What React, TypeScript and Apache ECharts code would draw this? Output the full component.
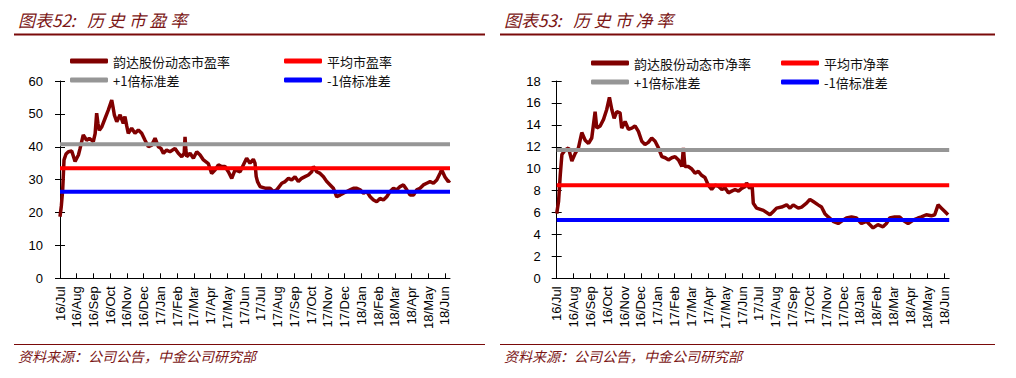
import React, { useEffect, useRef } from "react";
import * as echarts from "echarts";

// x positions are months elapsed since the start of Jul 2016
const monthLabels = [
  "16/Jul", "16/Aug", "16/Sep", "16/Oct", "16/Nov", "16/Dec",
  "17/Jan", "17/Feb", "17/Mar", "17/Apr", "17/May", "17/Jun",
  "17/Jul", "17/Aug", "17/Sep", "17/Oct", "17/Nov", "17/Dec",
  "18/Jan", "18/Feb", "18/Mar", "18/Apr", "18/May", "18/Jun",
];
const monthTicks = monthLabels.map((_, i) => i);
const xEnd = 23.3;

// 韵达股份动态市盈率 [month, PE]
const peData: [number, number][] = [
  [0, 18.7], [0.08, 22], [0.16, 26.8], [0.24, 36], [0.36, 37.8], [0.5, 38.5], [0.7, 38.7],
  [0.9, 35.5], [1.1, 37.5], [1.2, 39.5], [1.39, 43.6], [1.59, 42], [1.75, 42.5], [1.89, 42],
  [1.99, 41.6], [2.1, 44], [2.19, 50.2], [2.27, 47], [2.35, 45], [2.49, 46], [2.69, 48.6],
  [2.89, 51.2], [3.09, 54.2], [3.17, 52], [3.25, 49.6], [3.39, 47.6], [3.59, 49.7], [3.78, 47.1],
  [3.88, 49.2], [3.98, 46.5], [4.08, 44.1], [4.28, 45.6], [4.48, 44.1], [4.68, 45.1], [4.88, 44.1],
  [5.08, 42], [5.28, 40], [5.48, 40.5], [5.68, 42.6], [5.88, 40], [6.03, 39.5], [6.18, 38],
  [6.37, 39], [6.57, 38.5], [6.87, 39.5], [7.07, 38], [7.27, 37], [7.42, 38], [7.47, 43],
  [7.52, 39], [7.57, 37], [7.77, 38], [7.97, 36.5], [8.17, 38.5], [8.37, 37.5], [8.57, 36],
  [8.86, 34.9], [9.06, 31.9], [9.26, 32.9], [9.46, 34.5], [9.66, 34], [9.86, 34], [10.06, 32.4],
  [10.26, 30.4], [10.46, 33], [10.76, 32.4], [10.96, 34.5], [11.15, 36.5], [11.35, 35],
  [11.55, 36.2], [11.65, 35], [11.72, 31], [11.8, 29.4], [11.95, 27.9], [12.25, 27.4],
  [12.55, 27.4], [12.75, 26.4], [12.95, 26.9], [13.25, 28.9], [13.45, 29.4], [13.65, 30.4],
  [13.84, 29.9], [14.04, 30.9], [14.24, 29.4], [14.44, 30.4], [14.64, 30.9], [14.84, 31.4],
  [15.04, 32.4], [15.14, 34], [15.34, 32.4], [15.54, 31.9], [15.74, 30.9], [15.94, 29.4],
  [16.14, 28.4], [16.33, 27.4], [16.53, 24.8], [16.73, 25.3], [16.93, 25.9], [17.13, 26.4],
  [17.33, 26.9], [17.53, 27.4], [17.73, 27.4], [17.93, 26.9], [18.13, 25.9], [18.33, 26.4],
  [18.53, 24.8], [18.73, 23.8], [18.92, 23.3], [19.12, 24.3], [19.32, 23.8], [19.52, 24.8],
  [19.72, 26.4], [19.92, 27.4], [20.12, 26.9], [20.32, 27.9], [20.52, 28.4], [20.72, 26.9],
  [20.92, 25.3], [21.12, 25.3], [21.31, 26.9], [21.51, 27.4], [21.71, 28.4], [21.91, 28.9],
  [22.11, 29.4], [22.31, 28.9], [22.51, 29.9], [22.7, 31.9], [22.8, 33], [23.0, 30.8],
  [23.2, 29.4], [23.3, 29.8],
];

// 韵达股份动态市净率 [month, PB]
const pbData: [number, number][] = [
  [0, 5.9], [0.11, 7.0], [0.21, 9.4], [0.31, 11.3], [0.5, 11.7], [0.7, 11.9], [0.9, 10.7],
  [1.1, 11.4], [1.29, 11.9], [1.49, 13.3], [1.69, 12.6], [1.89, 12.3], [2.08, 12.8], [2.28, 15.2],
  [2.38, 13.7], [2.58, 13.9], [2.78, 14.5], [2.97, 15.4], [3.13, 16.5], [3.27, 15.4], [3.41, 14.6],
  [3.57, 15.2], [3.76, 15.1], [3.86, 13.7], [4.06, 14.3], [4.26, 13.6], [4.46, 13.7], [4.65, 13.9],
  [4.85, 13.4], [5.05, 12.5], [5.24, 12.2], [5.44, 12.4], [5.64, 12.8], [5.84, 12.5], [6.04, 11.9],
  [6.24, 11.1], [6.44, 11.0], [6.63, 10.8], [6.83, 11.0], [7.03, 11.1], [7.23, 10.8], [7.43, 10.2],
  [7.52, 11.9], [7.61, 10.2], [7.81, 10.2], [8.0, 10.0], [8.21, 9.6], [8.41, 9.75], [8.6, 9.4],
  [8.8, 9.2], [9.0, 8.5], [9.2, 8.1], [9.4, 8.5], [9.6, 8.4], [9.8, 8.1], [10.0, 8.25],
  [10.19, 7.8], [10.39, 7.95], [10.59, 8.1], [10.79, 7.95], [10.98, 8.2], [11.18, 8.35],
  [11.27, 8.7], [11.45, 8.2], [11.6, 8.5], [11.67, 6.85], [11.87, 6.4], [12.27, 6.2],
  [12.66, 5.8], [12.86, 6.1], [13.05, 6.4], [13.35, 6.5], [13.65, 6.7], [13.85, 6.4],
  [14.04, 6.7], [14.34, 6.4], [14.54, 6.5], [14.83, 6.85], [15.03, 7.2], [15.23, 7.0],
  [15.52, 6.7], [15.72, 6.5], [15.92, 5.9], [16.12, 5.6], [16.41, 5.2], [16.71, 5.0],
  [16.9, 5.2], [17.2, 5.5], [17.5, 5.6], [17.79, 5.5], [18.09, 5.0], [18.39, 5.2], [18.58, 4.9],
  [18.78, 4.6], [19.07, 4.9], [19.37, 4.7], [19.57, 5.0], [19.77, 5.5], [20.06, 5.6],
  [20.36, 5.6], [20.56, 5.3], [20.86, 5.0], [21.15, 5.3], [21.45, 5.5], [21.65, 5.6],
  [21.94, 5.8], [22.24, 5.7], [22.44, 5.8], [22.64, 6.7], [22.84, 6.4], [23.04, 6.1], [23.23, 5.8],
];

// [mean, +1 std, -1 std]
const peBands = [33.5, 40.75, 26.3];
const pbBands = [8.5, 11.71, 5.31];

const peNames = ["韵达股份动态市盈率", "平均市盈率", "+1倍标准差", "-1倍标准差"];
const pbNames = ["韵达股份动态市净率", "平均市净率", "+1倍标准差", "-1倍标准差"];

const colors = ["#800000", "#FF0000", "#969696", "#0000FF"];
const DARK = "#7B1616";

interface Cfg {
  title: string;
  names: string[];
  data: [number, number][];
  bands: number[];
  yMax: number;
  yInterval: number;
  gridLeft: number;
  gridWidth: number;
  labelMargin: number;
  legendLeft: [number, number];
  legendTop: number;
  lineRight: number;
  textX: number;
}

function buildOption(c: Cfg) {
  const font = "Liberation Sans, Arial, sans-serif";
  const yBase = {
    type: "value",
    min: 0,
    max: c.yMax,
    interval: c.yInterval,
    position: "left",
    offset: 0,
    splitLine: { show: false },
  };
  const legendBase = {
    orient: "vertical",
    top: c.legendTop,
    itemWidth: 38,
    itemHeight: 5,
    itemGap: 5,
    icon: "roundRect",
    padding: 0,
    selectedMode: false,
    textStyle: { fontSize: 13, color: "#111", fontFamily: "Noto Sans CJK SC", lineHeight: 14 },
  };
  return {
    animation: false,
    grid: { left: c.gridLeft, width: c.gridWidth, top: 81, height: 197.3, containLabel: false },
    legend: [
      { ...legendBase, left: c.legendLeft[0], data: [c.names[0], c.names[2]] },
      { ...legendBase, left: c.legendLeft[1], data: [c.names[1], c.names[3]] },
    ],
    xAxis: {
      type: "value",
      min: 0,
      max: xEnd,
      splitLine: { show: false },
      axisLine: { show: true, onZero: false, lineStyle: { color: "#000", width: 1 } },
      axisTick: { show: true, inside: true, length: 5, customValues: monthTicks, lineStyle: { color: "#000" } },
      axisLabel: {
        customValues: monthTicks,
        rotate: 90,
        margin: 8,
        fontSize: 13,
        fontFamily: font,
        color: "#000",
        formatter: (v: number) => monthLabels[Math.round(v)] ?? "",
      },
    },
    yAxis: [
      {
        ...yBase,
        axisLine: { show: true, lineStyle: { color: "#000", width: 1 } },
        axisTick: { show: true, length: 5, lineStyle: { color: "#000" } },
        axisLabel: { margin: c.labelMargin, fontSize: 13, fontFamily: font, color: "#000" },
      },
      {
        ...yBase,
        axisLine: { show: false },
        axisTick: { show: true, inside: true, length: 5, lineStyle: { color: "#000" } },
        axisLabel: { show: false },
      },
    ],
    series: [
      {
        name: c.names[0],
        type: "line",
        data: c.data,
        showSymbol: false,
        symbol: "none",
        color: colors[0],
        lineStyle: { width: 3.5, color: colors[0] },
        z: 2,
      },
      ...[1, 2, 3].map((k) => ({
        name: c.names[k],
        type: "line",
        data: [[0, c.bands[k - 1]], [xEnd, c.bands[k - 1]]],
        showSymbol: false,
        symbol: "none",
        color: colors[k],
        lineStyle: { width: 4, color: colors[k] },
        z: 3,
      })),
    ],
    graphic: [
      {
        type: "text",
        left: c.textX,
        top: 11,
        style: {
          text: c.title,
          fontSize: 17,
          fontStyle: "italic",
          fontFamily: "Noto Sans CJK SC",
          fill: DARK,
        },
      },
      {
        type: "line",
        shape: { x1: c.textX - 4, y1: 34.5, x2: c.lineRight, y2: 34.5 },
        style: { stroke: "#7A0A0A", lineWidth: 2 },
      },
      {
        type: "line",
        shape: { x1: c.textX - 4, y1: 344.5, x2: c.lineRight, y2: 344.5 },
        style: { stroke: "#7A0A0A", lineWidth: 1 },
      },
      {
        type: "text",
        left: c.textX,
        top: 349,
        style: {
          text: "资料来源：公司公告，中金公司研究部",
          fontSize: 14,
          fontStyle: "italic",
          fontFamily: "Noto Sans CJK SC",
          fill: DARK,
        },
      },
    ],
  };
}

const leftCfg: Cfg = {
  title: "图表52:   历 史 市 盈 率",
  names: peNames,
  data: peData,
  bands: peBands,
  yMax: 60,
  yInterval: 10,
  gridLeft: 60,
  gridWidth: 390,
  labelMargin: 17,
  legendLeft: [70, 284],
  legendTop: 54,
  lineRight: 485,
  textX: 18,
};

const rightCfg: Cfg = {
  title: "图表53:   历 史 市 净 率",
  names: pbNames,
  data: pbData,
  bands: pbBands,
  yMax: 18,
  yInterval: 2,
  gridLeft: 56.7,
  gridWidth: 392.5,
  labelMargin: 16,
  legendLeft: [91, 281],
  legendTop: 56,
  lineRight: 495,
  textX: 4,
};

function Chart({ cfg, left, width }: { cfg: Cfg; left: number; width: number }) {
  const ref = useRef<HTMLDivElement>(null);
  useEffect(() => {
    if (!ref.current) return;
    const chart = echarts.init(ref.current, undefined, { renderer: "svg" });
    chart.setOption(buildOption(cfg) as any);
    return () => chart.dispose();
  }, [cfg]);
  return (
    <div
      ref={ref}
      style={{ position: "absolute", left, top: 0, width, height: 378, background: "#fff" }}
    />
  );
}

export default function App() {
  return (
    <div style={{ position: "fixed", left: 0, top: 0, width: 1016, height: 378, background: "#fff" }}>
      <Chart cfg={leftCfg} left={0} width={500} />
      <Chart cfg={rightCfg} left={500} width={516} />
    </div>
  );
}
